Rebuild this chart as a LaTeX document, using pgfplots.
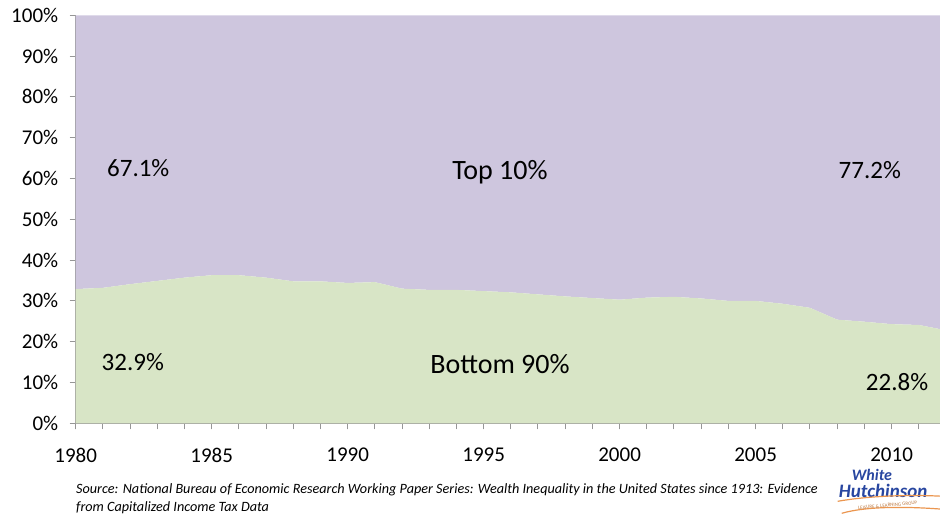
\documentclass[border=0pt]{standalone}
\usepackage{pgfplots}
\usepackage{pgfplotstable}
\usepackage{fontspec}
\pgfplotsset{compat=1.18}
\setmainfont{Carlito}

\definecolor{toparea}{RGB}{206,198,222}
\definecolor{botarea}{RGB}{216,229,198}
\definecolor{axisgray}{RGB}{150,150,150}
\definecolor{logoblue}{RGB}{40,70,160}
\definecolor{logoorange}{RGB}{235,150,80}

% share of wealth, bottom 90% and top 10%
\pgfplotstableread{
year bottom top
1980 32.9 67.1
1981 33.2 66.8
1982 34.1 65.9
1983 34.9 65.1
1984 35.7 64.3
1985 36.3 63.7
1986 36.3 63.7
1987 35.7 64.3
1988 34.8 65.2
1989 34.8 65.2
1990 34.4 65.6
1991 34.6 65.4
1992 33.0 67.0
1993 32.7 67.3
1994 32.7 67.3
1995 32.4 67.6
1996 32.1 67.9
1997 31.6 68.4
1998 31.1 68.9
1999 30.7 69.3
2000 30.3 69.7
2001 30.8 69.2
2002 31.0 69.0
2003 30.6 69.4
2004 30.0 70.0
2005 30.0 70.0
2006 29.3 70.7
2007 28.3 71.7
2008 25.4 74.6
2009 24.9 75.1
2010 24.3 75.7
2011 24.1 75.9
2012 22.8 77.2
}\wealth

\begin{document}
\begin{tikzpicture}
\path[use as bounding box] (-75.7pt,-91.7pt) rectangle (864.3pt,423.3pt);
\begin{axis}[
    name=ax,
    at={(0,0)}, anchor=south west,
    scale only axis,
    width=864.3pt, height=408pt,
    xmin=1980, xmax=2011.78,
    ymin=0, ymax=100,
    stack plots=y,
    axis x line*=bottom,
    axis y line*=left,
    axis line style={axisgray, line width=1.2pt},
    tick style={axisgray, line width=1pt},
    tick align=outside,
    major tick length=6pt,
    minor tick length=6pt,
    xtick={1980,1985,...,2010},
    minor xtick={1980,...,2012},
    xticklabels={1980,1985,1990,1995,2000,2005,2010},
    ytick={0,10,...,100},
    yticklabels={0\%,10\%,20\%,30\%,40\%,50\%,60\%,70\%,80\%,90\%,100\%},
    tick label style={font=\fontsize{21}{25}\selectfont},
    xticklabel style={yshift=-15pt},
    yticklabel style={xshift=-8pt},
    clip mode=individual,
]
\addplot[draw=none, fill=botarea] table[x=year, y=bottom] {\wealth} \closedcycle;
\addplot[draw=none, fill=toparea] table[x=year, y=top] {\wealth} \closedcycle;

\coordinate (l1) at (axis cs:1982.3,62.6);
\coordinate (l2) at (axis cs:1995.6,61.6);
\coordinate (l3) at (axis cs:2009.2,62.1);
\coordinate (l4) at (axis cs:1982.1,15.0);
\coordinate (l5) at (axis cs:1995.6,14.6);
\coordinate (l6) at (axis cs:2010.2,10.1);
\end{axis}

\node[font=\fontsize{25}{30}\selectfont] at (l1) {67.1\%};
\node[font=\fontsize{28}{34}\selectfont] at (l2) {Top 10\%};
\node[font=\fontsize{25}{30}\selectfont] at (l3) {77.2\%};
\node[font=\fontsize{25}{30}\selectfont] at (l4) {32.9\%};
\node[font=\fontsize{28}{34}\selectfont] at (l5) {Bottom 90\%};
\node[font=\fontsize{25}{30}\selectfont] at (l6) {22.8\%};

\node[anchor=north west, align=left, font=\fontsize{14.2}{18}\selectfont\itshape]
  at (-3pt,-57pt)
  {Source: National Bureau of Economic Research Working Paper Series: Wealth Inequality in the United States since 1913: Evidence\\
   from Capitalized Income Tax Data};

% logo
\node[anchor=base west, text=logoblue, inner sep=0pt,
      font=\fontsize{16}{16}\selectfont\bfseries\itshape]
  at (776pt,-57pt) {White};
\node[anchor=base west, text=logoblue, inner sep=0pt,
      font=\fontsize{19}{19}\selectfont\bfseries\itshape]
  at (763pt,-74pt) {Hutchinson};
\draw[logoorange, line width=1.2pt] (762pt,-78pt) .. controls (790pt,-73pt) and (830pt,-71pt) .. (868pt,-73pt);
\draw[logoorange, line width=1.2pt] (766pt,-90pt) .. controls (790pt,-83pt) and (830pt,-83pt) .. (868pt,-86pt);
\node[text=logoorange!80!black, font=\fontsize{5}{6}\selectfont, rotate=5, inner sep=0pt] at (812pt,-82pt) {LEISURE \& LEARNING GROUP};
\end{tikzpicture}
\end{document}
